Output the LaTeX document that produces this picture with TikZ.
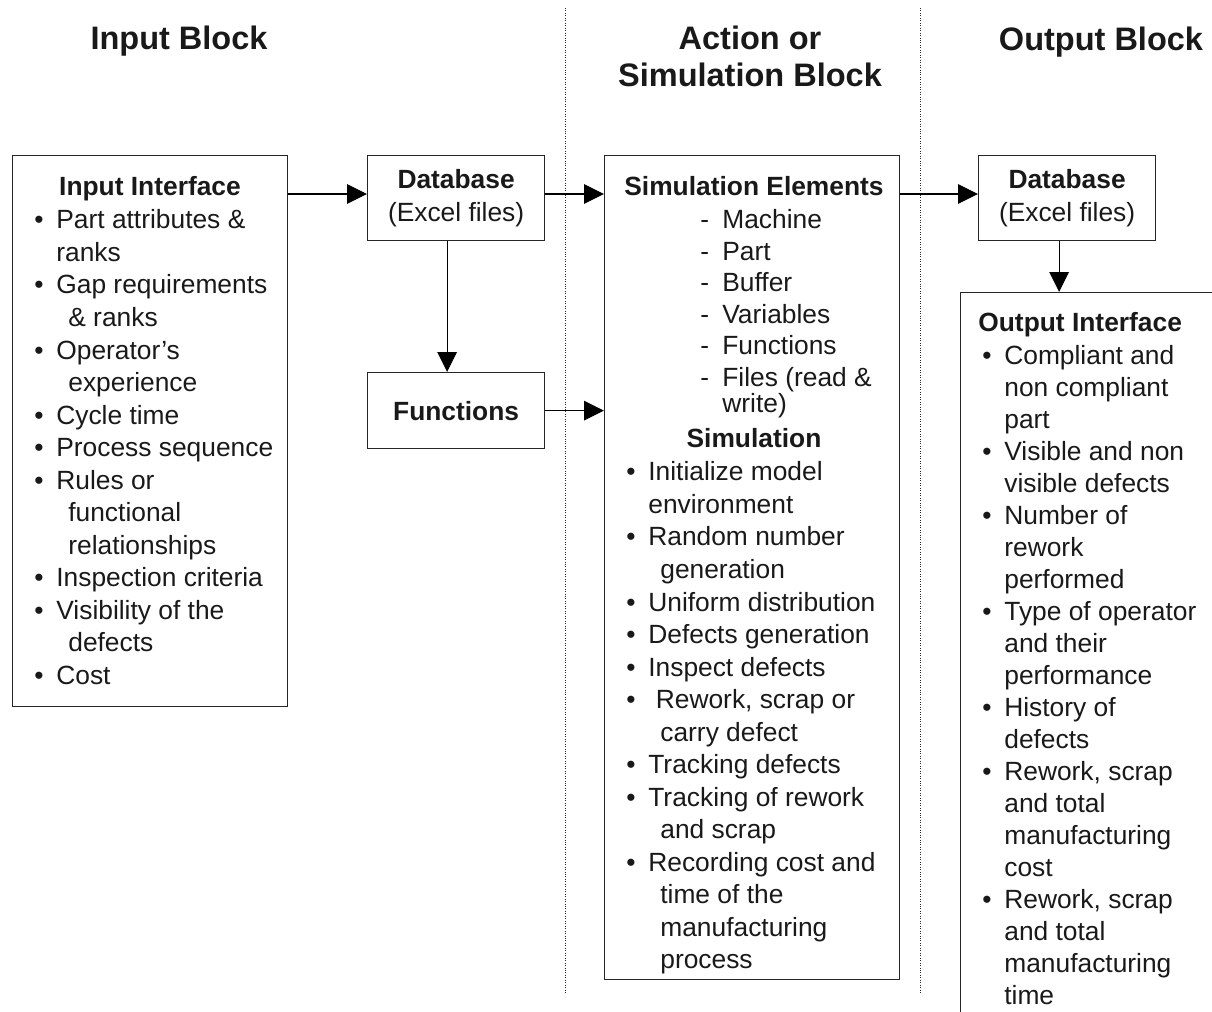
\documentclass[tikz,border=0pt]{standalone}
\usepackage{fontspec}
\setmainfont{Liberation Sans}
\usepackage{tikz}
\usetikzlibrary{positioning,arrows.meta}

\newcommand{\bodyfont}{\fontsize{15}{18.5}\selectfont}
\newcommand{\ibul}{\makebox[4.4mm][l]{\textbullet}}
\newcommand{\idash}{\makebox[4.4mm][l]{-}}
\newcommand{\icont}{\hspace*{4.4mm}}
\newcommand{\iind}{\hspace*{6.8mm}}

\begin{document}
\begin{tikzpicture}[x=0.2mm,y=-0.2mm,
  every node/.style={font=\bodyfont,inner sep=0pt,text=black!90},
  panel/.style={draw=black!85,line width=0.7pt,anchor=north west,align=center},
  list/.style={anchor=north west,align=left},
  head/.style={font=\bodyfont\bfseries},
  title/.style={font=\fontsize{18.5}{21}\selectfont\bfseries,align=center,anchor=north},
  arr/.style={line width=0.6pt,-{Triangle[length=4mm,width=3.9mm]}},
  divider/.style={black!85,line width=0.5pt,dash pattern=on 0.5pt off 0.9pt}]
  \useasboundingbox (0,0) rectangle (1212,1011);
  % block titles
  \node[title] (tin) at (179,25.5) {Input Block};
  \node[title] (tsim) at (750,25.5) {Action or\\Simulation Block};
  \node[title] (tout) at (1101,26.5) {Output Block};
  % dotted dividers
  \draw[divider] (565,8) -- (565,993);
  \draw[divider] (920,8) -- (920,993);
  % boxes
  \node[panel,minimum width=55mm,minimum height=110.2mm] (inbox) at (12,155) {};
  \node[panel,minimum width=35.4mm,minimum height=17mm] (dbin) at (367,155) {\textbf{Database}\\(Excel files)};
  \node[panel,minimum width=35.4mm,minimum height=15.2mm] (fun) at (367,372) {\textbf{Functions}};
  \node[panel,minimum width=59mm,minimum height=164.8mm] (simbox) at (604,155) {};
  \node[panel,minimum width=35.4mm,minimum height=17mm] (dbout) at (978,155) {\textbf{Database}\\(Excel files)};
  \node[panel,minimum width=60mm,minimum height=160mm] (outbox) at (960,292) {};
  % input interface
  \node[head,anchor=north] (inhead) at (150,176.5) {Input Interface};
  \node[list] (initems) at (34,209.5) {\ibul Part attributes \&\\ \icont ranks\\
    \ibul Gap requirements\\ \iind \& ranks\\ \ibul Operator’s\\ \iind experience\\
    \ibul Cycle time\\ \ibul Process sequence\\ \ibul Rules or\\ \iind functional\\
    \iind relationships\\ \ibul Inspection criteria\\ \ibul Visibility of the\\
    \iind defects\\ \ibul Cost};
  % simulation elements
  \node[head,anchor=north] (elhead) at (754,176.5) {Simulation Elements};
  \node[list,font=\fontsize{15}{17.9}\selectfont] (elitems) at (700,209.5) {\idash Machine\\
    \idash Part\\ \idash Buffer\\ \idash Variables\\ \idash Functions\\
    \idash Files (read \&\\[-1.1mm] \icont write)};
  \node[head,anchor=north] (simhead) at (754,428) {Simulation};
  \node[list] (simitems) at (626,461.5) {\ibul Initialize model\\ \icont environment\\
    \ibul Random number\\ \iind generation\\ \ibul Uniform distribution\\
    \ibul Defects generation\\ \ibul Inspect defects\\ \ibul\hspace*{1.5mm}Rework, scrap or\\
    \iind carry defect\\ \ibul Tracking defects\\ \ibul Tracking of rework\\
    \iind and scrap\\ \ibul Recording cost and\\ \iind time of the\\
    \iind manufacturing\\ \iind process};
  % output interface
  \node[head,anchor=north west] (outhead) at (978,312.5) {Output Interface};
  \node[list,font=\fontsize{15}{18.2}\selectfont] (outitems) at (982,345.5) {\ibul Compliant and\\
    \icont non compliant\\ \icont part\\ \ibul Visible and non\\ \icont visible defects\\
    \ibul Number of\\ \icont rework\\ \icont performed\\ \ibul Type of operator\\
    \icont and their\\ \icont performance\\ \ibul History of\\ \icont defects\\
    \ibul Rework, scrap\\ \icont and total\\ \icont manufacturing\\ \icont cost\\
    \ibul Rework, scrap\\ \icont and total\\ \icont manufacturing\\ \icont time};
  % connectors
  \coordinate (row) at (0,194);
  \draw[arr] (inbox.east |- row) -- (dbin.west |- row);
  \draw[arr] (dbin.east |- row) -- (simbox.west |- row);
  \draw[arr] (simbox.east |- row) -- (dbout.west |- row);
  \draw[arr] ([xshift=-1.8mm]dbin.south) -- ([xshift=-1.8mm]fun.north);
  \draw[arr] (fun.east) -- (simbox.west |- fun.east);
  \draw[arr] ([xshift=-1.6mm]dbout.south) -- ([xshift=-1.6mm]dbout.south |- outbox.north);
\end{tikzpicture}
\end{document}
